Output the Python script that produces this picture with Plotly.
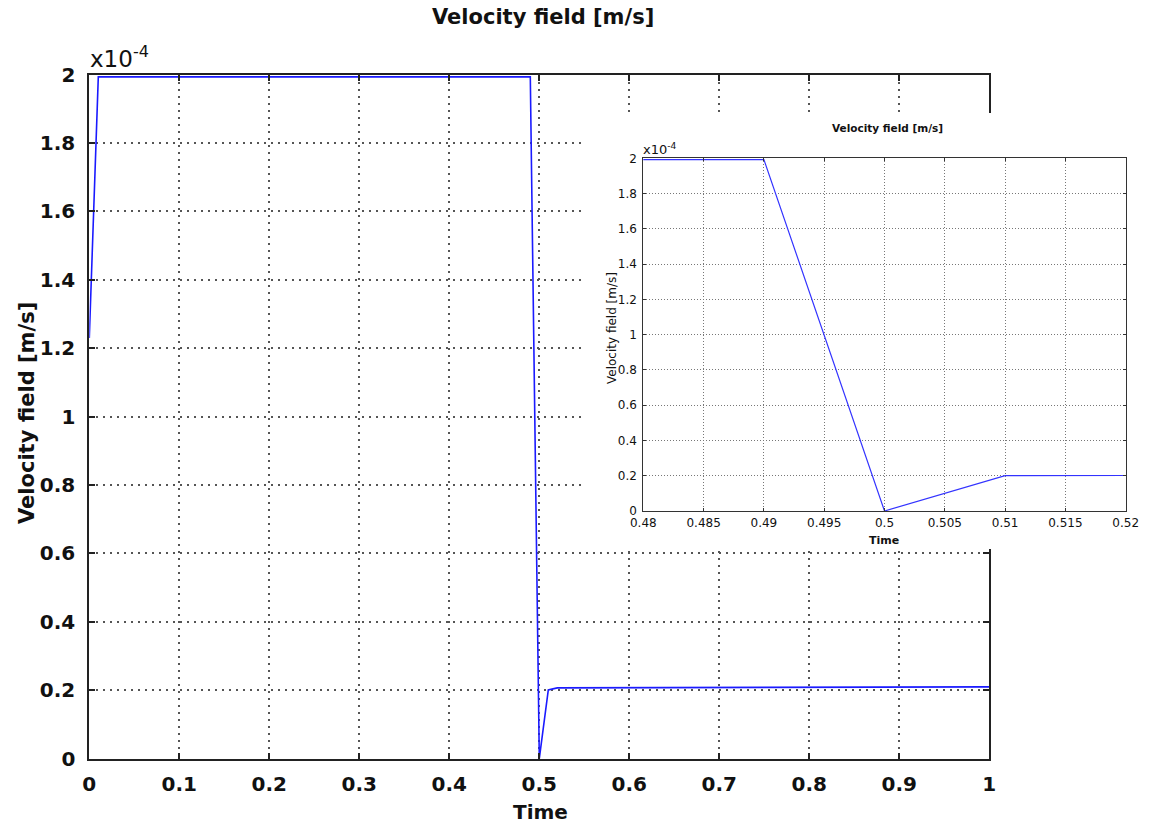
import plotly.graph_objects as go

# Data (velocity in units of 1e-4 m/s)
time = [0.0, 0.01, 0.49, 0.50, 0.51, 0.52, 1.0]
velocity = [1.23, 1.993, 1.993, 0.0, 0.201, 0.207, 0.21]

main_xticks = [0, 0.1, 0.2, 0.3, 0.4, 0.5, 0.6, 0.7, 0.8, 0.9, 1]
main_yticks = [0, 0.2, 0.4, 0.6, 0.8, 1, 1.2, 1.4, 1.6, 1.8, 2]
inset_xticks = [0.48, 0.485, 0.49, 0.495, 0.5, 0.505, 0.51, 0.515, 0.52]
inset_yticks = main_yticks

W, H = 1149, 826
def px(x):
    return x / W
def py(y):
    return 1 - y / H

FONT = "DejaVu Sans"
fig = go.Figure()

# main line
fig.add_trace(go.Scatter(x=time, y=velocity, mode="lines",
                         line=dict(color="#1a1aff", width=1.6),
                         xaxis="x", yaxis="y", hoverinfo="skip", showlegend=False))
# white cover panel for inset
fig.add_trace(go.Scatter(x=[-0.1, 1.1, 1.1, -0.1, -0.1], y=[-0.1, -0.1, 1.1, 1.1, -0.1],
                         mode="lines", fill="toself", fillcolor="white",
                         line=dict(width=0, color="white"),
                         xaxis="x2", yaxis="y2", hoverinfo="skip", showlegend=False))
# inset line
fig.add_trace(go.Scatter(x=time, y=velocity, mode="lines",
                         line=dict(color="#3333ff", width=1.2),
                         xaxis="x3", yaxis="y3", hoverinfo="skip", showlegend=False))

main_ax = dict(showline=True, linecolor="#222", linewidth=2, mirror="ticks",
               ticks="inside", ticklen=6, tickwidth=2, tickcolor="#222",
               showgrid=True, gridcolor="#555", gridwidth=2, griddash="2px,5px",
               zeroline=False, automargin=False,
               tickfont=dict(family=FONT, size=20, color="#111", weight="bold"))
inset_ax = dict(showline=True, linecolor="#333", linewidth=1, mirror="ticks",
                ticks="inside", ticklen=3, tickwidth=1, tickcolor="#333",
                showgrid=True, gridcolor="#777", gridwidth=1, griddash="1px,2px",
                zeroline=False, automargin=False,
                tickfont=dict(family=FONT, size=12, color="#111"))

fig.update_layout(
    width=W, height=H, margin=dict(l=0, r=0, t=0, b=0, pad=0), autosize=False,
    paper_bgcolor="white", plot_bgcolor="white",
    xaxis=dict(domain=[px(89.3), px(989.3)], range=[0, 1], tickvals=main_xticks,
               anchor="y", ticklabelstandoff=6, **main_ax),
    yaxis=dict(domain=[py(758.7), py(74.5)], range=[0, 2], tickvals=main_yticks,
               anchor="x", ticklabelstandoff=8, **main_ax),
    xaxis2=dict(domain=[px(585), 1.0], range=[0, 1], visible=False, fixedrange=True,
                anchor="y2", automargin=False),
    yaxis2=dict(domain=[py(549), py(113)], range=[0, 1], visible=False, fixedrange=True,
                anchor="x2", automargin=False),
    xaxis3=dict(domain=[px(643.3), px(1125.7)], range=[0.48, 0.52], tickvals=inset_xticks,
                anchor="y3", ticklabelstandoff=1, **inset_ax),
    yaxis3=dict(domain=[py(511), py(158.3)], range=[0, 2], tickvals=inset_yticks,
                anchor="x3", ticklabelstandoff=3, **inset_ax),
)

def text(t, x, y, size, bold=False, angle=0, xanchor="center", yanchor="middle"):
    return dict(text=t, x=px(x), y=py(y), xref="paper", yref="paper",
                xanchor=xanchor, yanchor=yanchor, textangle=angle, showarrow=False,
                font=dict(family=FONT, size=size, color="#111",
                          weight="bold" if bold else "normal"))

ann = [
    text("Velocity field [m/s]", 543, 17, 21, bold=True),
    text("Time", 540, 812, 20, bold=True),
    text("Velocity field [m/s]", 27, 413, 21, bold=True, angle=-90),
    text("x10<sup>-4</sup>", 88, 74, 23, xanchor="left", yanchor="bottom"),
    # inset texts
    text("Velocity field [m/s]", 887, 128, 10.5, bold=True),
    text("Time", 884, 540, 11, bold=True),
    text("Velocity field [m/s]", 612, 328, 12, angle=-90),
    text("x10<sup>-4</sup>", 641, 159, 13, xanchor="left", yanchor="bottom"),
]
fig.update_layout(annotations=ann)

fig.write_html("out.html")
